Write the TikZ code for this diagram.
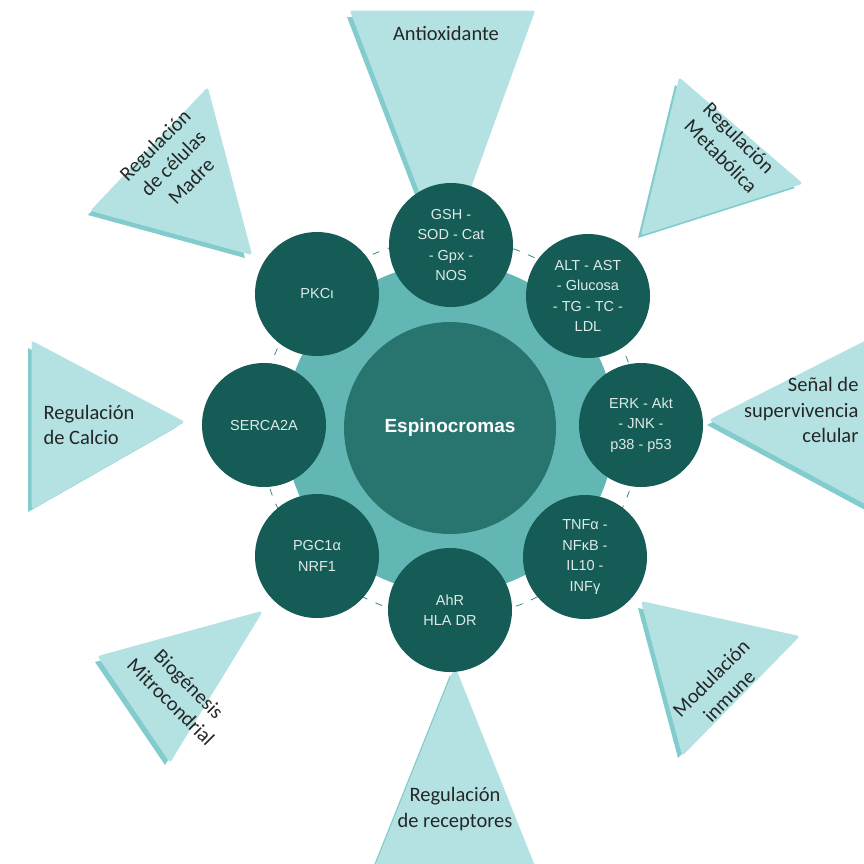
\documentclass[tikz,border=0pt]{standalone}
\usepackage{fontspec}
\setmainfont{Carlito}
\newfontfamily\circfont{Liberation Sans}
\usetikzlibrary{positioning, calc}
\definecolor{mydeep}{RGB}{22,92,86}
\definecolor{myhub}{RGB}{40,117,111}
\definecolor{mydisk}{RGB}{98,182,180}
\definecolor{mytri}{RGB}{180,226,227}
\definecolor{mytrishade}{RGB}{130,204,206}
\definecolor{myring}{RGB}{60,135,135}
\definecolor{mylight}{RGB}{222,234,232}
\tikzset{
  target/.style={circle, fill=mydeep, minimum size=124pt, inner sep=0pt, align=center, text=mylight, font=\circfont\fontsize{14.5}{20.5}\selectfont},
  hub/.style={circle, fill=myhub, minimum size=212pt, inner sep=0pt, text=white, font=\circfont\bfseries\fontsize{19}{23}\selectfont},
  ray/.style={fill=mytri, draw=mytri, line width=3pt, line join=round},
  rayshade/.style={fill=mytrishade, shift={(-5,5)}},
  raylabel/.style={align=center, text=black!85, font=\fontsize{20.5}{25.5}\selectfont},
  ring/.style={thick, color=myring, dash pattern=on 7pt off 9pt}
}

\begin{document}
\begin{tikzpicture}[x=1pt, y=-1pt]
  \useasboundingbox (0,0) rectangle (864,863);

  % Rays
  \fill[rayshade] (352,12) -- (533,12) -- (445,255) -- cycle;
  \filldraw[ray] (352,12) -- (533,12) -- (445,255) -- cycle;
  \fill[rayshade] (680,80) -- (800,183) -- (643,233) -- cycle;
  \filldraw[ray] (680,80) -- (800,183) -- (643,233) -- cycle;
  \fill[rayshade] (870,340) -- (870,505) -- (712,420) -- cycle;
  \filldraw[ray] (870,340) -- (870,505) -- (712,420) -- cycle;
  \fill[rayshade] (797,637) -- (683,753) -- (643,603) -- cycle;
  \filldraw[ray] (797,637) -- (683,753) -- (643,603) -- cycle;
  \fill[rayshade] (375,870) -- (535,870) -- (455,670) -- cycle;
  \filldraw[ray] (375,870) -- (535,870) -- (455,670) -- cycle;
  \fill[rayshade] (100,657) -- (170,760) -- (260,613) -- cycle;
  \filldraw[ray] (100,657) -- (170,760) -- (260,613) -- cycle;
  \fill[rayshade] (33,343) -- (33,507) -- (182,422) -- cycle;
  \filldraw[ray] (33,343) -- (33,507) -- (182,422) -- cycle;
  \fill[rayshade] (207,90) -- (93,210) -- (250,253) -- cycle;
  \filldraw[ray] (207,90) -- (93,210) -- (250,253) -- cycle;

  % Ray labels
  \node[raylabel] (antiox) at (446,33) {Antioxidante};
  \node[raylabel, rotate=-45] (metab) at (730,147) {Regulación\\Metabólica};
  \node[raylabel, anchor=east, align=right] (senal) at (862,410) {Señal de\\supervivencia\\celular};
  \node[raylabel, rotate=45] (inmune) at (720,687) {Modulación\\inmune};
  \node[raylabel] (recep) at (455,809) {Regulación\\de receptores};
  \node[raylabel, rotate=-45] (biogen) at (180,693) {Biogénesis\\Mitrocondrial};
  \node[raylabel, anchor=west, align=left] (calcio) at (40,425) {Regulación\\de Calcio};
  \node[raylabel, rotate=45] (madre) at (173,163) {Regulación\\de células\\Madre};

  % Disk and dashed ring
  \fill[mydisk] (450,428) circle (165);
  \draw[ring] (450,428) circle (190);

  % Hub
  \node[hub] (hub) at (450,428) {Espinocromas};

  % Targets
  \node[target] (gsh) at (451,245) {GSH -\\SOD - Cat\\- Gpx -\\NOS};
  \node[target] (alt) at (588,296) {ALT - AST\\- Glucosa\\- TG - TC -\\LDL};
  \node[target] (erk) at (641,425) {ERK - Akt\\- JNK -\\p38 - p53};
  \node[target] (tnf) at (585,557) {TNFα -\\NFκB -\\IL10 -\\INFγ};
  \node[target] (ahr) at (450,610) {AhR\\HLA DR};
  \node[target] (pgc) at (317,556) {PGC1α\\NRF1};
  \node[target] (serca) at (264,425) {SERCA2A};
  \node[target] (pkc) at (317,294) {PKCι};
\end{tikzpicture}
\end{document}
